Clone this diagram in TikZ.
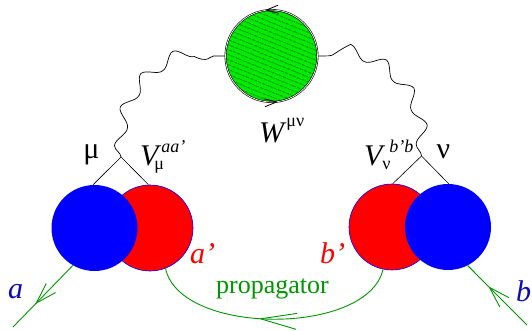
\documentclass[tikz,border=0pt]{standalone}
\usepackage{fontspec}
\setmainfont{Liberation Serif}
\usetikzlibrary{decorations.pathmorphing,decorations.markings,arrows.meta,patterns.meta}
\definecolor{lgreen}{RGB}{0,150,0}
\definecolor{wgreen}{RGB}{0,235,0}
\definecolor{lblue}{RGB}{10,10,185}
\newcommand\vsubsup[4]{\rlap{\hspace{#1}\raisebox{-4pt}{\fontsize{18}{18}\selectfont #2}}\hspace{#3}\raisebox{13pt}{\fontsize{18}{18}\selectfont #4}}
\begin{document}
\begin{tikzpicture}[x=1pt,y=-1pt,
  disk/.style={circle, minimum size=86pt, inner sep=0pt},
  reddisk/.style={disk, fill=red, draw=blue, line width=0.6pt},
  bluedisk/.style={disk, fill=blue},
  thinline/.style={black, line width=0.6pt},
  photon/.style={black, line width=0.7pt, decorate, decoration={snake, segment length=37pt, amplitude=6pt}},
  gline/.style={lgreen, line width=0.9pt},
  garrow/.style n args={3}{postaction={decorate}, decoration={markings, mark=at position #1 with {\arrow{Straight Barb[length=#2,width=#3]}}}},
  lbl/.style={inner sep=0pt, font=\fontsize{30}{34}\selectfont},
  wblob/.style={circle, minimum size=92pt, inner sep=0pt, fill=wgreen, draw=black, double=white, double distance=0.7pt, line width=0.6pt,
    path picture={\fill[pattern={Lines[angle=-22,distance=4pt,line width=0.5pt]}] (path picture bounding box.south west) rectangle (path picture bounding box.north east);}},
  ]
\useasboundingbox (0,0) rectangle (532,331);

% vertices
\coordinate (v1) at (121,157);
\coordinate (v2) at (421.5,156);
\coordinate (ea) at (13,327);
\coordinate (eb) at (527,325);

% disks
\node[reddisk] (R1) at (150,228) {};
\node[bluedisk] (B1) at (94.5,228) {};
\node[reddisk] (R2) at (392,227) {};
\node[bluedisk] (B2) at (448,227) {};

% vertex lines
\draw[thinline] (v1) -- (B1.92);
\draw[thinline] (v1) -- (R1.92);
\draw[thinline] (v2) -- (R2.89);
\draw[thinline] (v2) -- (B2.89);

% green blob
\node[wblob] (G) at (271.5,56) {};
\path[postaction={decorate}, decoration={markings, mark=at position 1 with {\arrow[black, line width=0.8pt]{Straight Barb[length=12pt,width=8pt]}}}] (G.90) -- (G.98);
\path[postaction={decorate}, decoration={markings, mark=at position 1 with {\arrow[black, line width=0.8pt]{Straight Barb[length=12pt,width=8pt]}}}] (G.-90) -- (G.-82);

% photons
\draw[photon] (v1) .. controls (118,95) and (165,56) .. (G.west);
\draw[photon] (v2) .. controls (425,95) and (378,56) .. (G.east);

% fermion lines
\draw[gline, garrow={0.63}{21pt}{13pt}] (B1.-120) -- (ea);
\draw[gline, garrow={0.65}{21pt}{13pt}] (eb) -- (B2.-63);
\draw[gline, garrow={0.56}{36pt}{16pt}] (R2.-102) .. controls (368,336) and (180,336) .. (R1.-69);

% labels
\node[lbl, anchor=base] (mu) at (91.5,159) {μ};
\node[lbl, anchor=base] (nu) at (443.5,158) {ν};
\node[lbl, anchor=base west] (Va) at (140,165) {\textit{V}\vsubsup{-7pt}{μ}{0pt}{\itshape aa’}};
\node[lbl, anchor=base west] (Vb) at (364,165) {\textit{V}\vsubsup{-3pt}{ν}{4pt}{\itshape b’b}};
\node[lbl, anchor=base west] (W) at (259,143) {\textit{W}\raisebox{17pt}{\fontsize{18}{18}\selectfont μν}};
\node[lbl, anchor=base west, text=red] (ap) at (190,263) {\textit{a’}};
\node[lbl, anchor=base west, text=red] (bp) at (320,263) {\textit{b’}};
\node[lbl, anchor=base west, text=lblue] (a) at (8,298) {\textit{a}};
\node[lbl, anchor=base west, text=lblue] (b) at (516,301) {\textit{b}};
\node[inner sep=0pt, anchor=base, text=lgreen, font=\fontsize{26}{30}\selectfont] (prop) at (272.5,293) {propagator};
\end{tikzpicture}
\end{document}
